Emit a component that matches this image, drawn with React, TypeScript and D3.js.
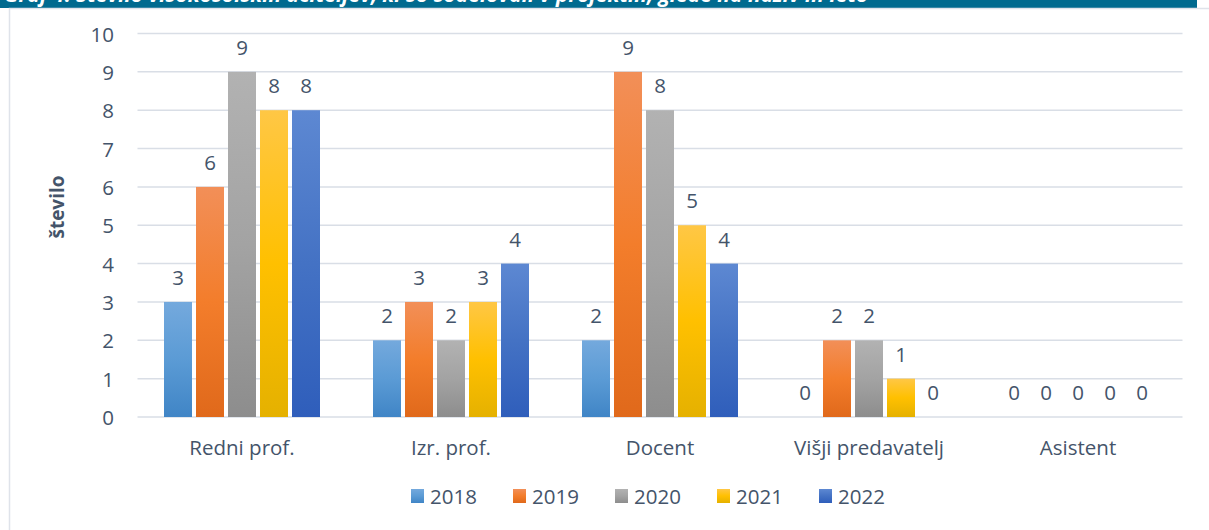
import { useMemo } from "react";
import * as d3 from "d3";

const WIDTH = 1209;
const HEIGHT = 530;
const PLOT = { left: 137.5, right: 1182.5, top: 33.5, bottom: 417 };

const categories = ["Redni prof.", "Izr. prof.", "Docent", "Višji predavatelj", "Asistent"];
const years = ["2018", "2019", "2020", "2021", "2022"];
// values per year, in category order
const values2018 = [3, 2, 2, 0, 0];
const values2019 = [6, 3, 9, 2, 0];
const values2020 = [9, 2, 8, 2, 0];
const values2021 = [8, 3, 5, 1, 0];
const values2022 = [8, 4, 4, 0, 0];
const yTicks = [0, 1, 2, 3, 4, 5, 6, 7, 8, 9, 10];

const seriesValues = [values2018, values2019, values2020, values2021, values2022];

// top / middle / bottom of the office-like gradient
const gradients = [
  ["#74a9dd", "#5b9bd5", "#4085c6"],
  ["#f28f58", "#f37d2b", "#e0691b"],
  ["#b2b2b2", "#a3a3a3", "#8d8d8d"],
  ["#ffc745", "#ffc000", "#e5b100"],
  ["#5d88d2", "#4472c4", "#2f5ebb"],
];

const TEXT = "#44546A";
const FONT = "'Open Sans', sans-serif";
const FS = 20.5;

export default function App() {
  const xScale = useMemo(
    () => d3.scaleBand().domain(categories).range([PLOT.left, PLOT.right]).padding(0),
    []
  );
  const inner = useMemo(
    () => d3.scaleBand().domain(years).range([26.5, 182.5]).paddingInner(0.125).paddingOuter(0),
    []
  );
  const yScale = useMemo(
    () => d3.scaleLinear().domain([0, 10]).range([PLOT.bottom, PLOT.top]),
    []
  );

  const bars = categories.map((cat, ci) => {
    const x0 = xScale(cat) ?? 0;
    return (
      <g key={cat}>
        {years.map((yr, si) => {
          const v = seriesValues[si][ci];
          const x = x0 + (inner(yr) ?? 0);
          const y = yScale(v);
          return (
            <g key={yr}>
              {v > 0 && (
                <rect
                  x={x}
                  y={y}
                  width={inner.bandwidth()}
                  height={yScale(0) - y}
                  fill={`url(#grad${si})`}
                />
              )}
              <text
                x={x + inner.bandwidth() / 2}
                y={y - 17}
                textAnchor="middle"
                fontSize={FS}
                fill={TEXT}
              >
                {v}
              </text>
            </g>
          );
        })}
        <text
          x={x0 + xScale.bandwidth() / 2}
          y={455}
          textAnchor="middle"
          fontSize={FS}
          fill={TEXT}
        >
          {cat}
        </text>
      </g>
    );
  });

  const grid = yTicks.map((t) => (
    <g key={t}>
      <line
        x1={PLOT.left}
        x2={PLOT.right}
        y1={yScale(t)}
        y2={yScale(t)}
        stroke="#d9dee6"
        strokeWidth={1.5}
      />
      <text
        x={114}
        y={yScale(t)}
        textAnchor="end"
        dominantBaseline="central"
        fontSize={FS}
        fill={TEXT}
      >
        {t}
      </text>
    </g>
  ));

  const legend = years.map((yr, i) => (
    <g key={yr} transform={`translate(${411 + i * 102},489)`}>
      <rect width={13} height={14} fill={`url(#grad${i})`} />
      <text x={19} y={15} fontSize={FS} fill={TEXT}>
        {yr}
      </text>
    </g>
  ));

  return (
    <svg
      width={WIDTH}
      height={HEIGHT}
      style={{ position: "absolute", left: 0, top: 0, display: "block", background: "#fff" }}
      fontFamily={FONT}
    >
      <defs>
        {gradients.map((g, i) => (
          <linearGradient key={i} id={`grad${i}`} x1="0" y1="0" x2="0" y2="1">
            <stop offset="0%" stopColor={g[0]} />
            <stop offset="50%" stopColor={g[1]} />
            <stop offset="100%" stopColor={g[2]} />
          </linearGradient>
        ))}
        <clipPath id="banner">
          <rect x={0} y={0} width={WIDTH} height={8} />
        </clipPath>
      </defs>

      {/* banner cut off at top of the screenshot, only the bottom of its title shows */}
      <rect x={0} y={0} width={1197} height={8} fill="#006a8f" />
      <g clipPath="url(#banner)">
        <text
          x={4}
          y={2}
          fontSize={21}
          fontStyle="italic"
          fontWeight="bold"
          fill="#fff"
          fontFamily="'Open Sans', sans-serif"
        >
          Graf 4: Število visokošolskih učiteljev, ki so sodelovali v projektih, glede na naziv in leto
        </text>
      </g>
      <rect x={9.5} y={8.5} width={1400} height={700} fill="none" stroke="#dfe3ea" strokeWidth={1.5} />

      {grid}
      {bars}

      <text
        transform={`translate(64,207) rotate(-90)`}
        textAnchor="middle"
        fontSize={19}
        fontWeight="bold"
        fill={TEXT}
      >
        število
      </text>

      {legend}
    </svg>
  );
}
